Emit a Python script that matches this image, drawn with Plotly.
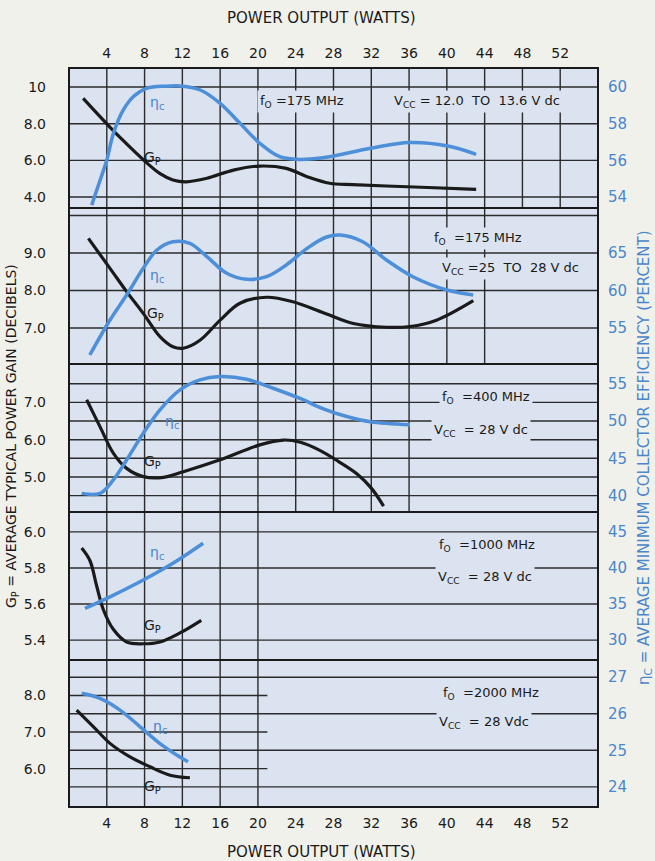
import plotly.graph_objects as go

# ---------------- data ----------------
x_ticks = [4, 8, 12, 16, 20, 24, 28, 32, 36, 40, 44, 48, 52]

# Panel 1: f0 = 175 MHz, Vcc = 12.0 to 13.6 V dc
p1_gp_w = [1.5, 4.3, 6.0, 7.9, 9.6, 11.0, 12.4, 14.6, 17.4, 20.2, 23.0, 25.2, 27.6, 30.0, 33.6, 38.0, 43.1]
p1_gp = [9.38, 7.83, 6.95, 6.02, 5.29, 4.93, 4.83, 5.02, 5.47, 5.69, 5.56, 5.11, 4.75, 4.68, 4.60, 4.52, 4.42]
p1_eta_w = [2.4, 3.3, 4.0, 4.7, 5.75, 6.8, 8.2, 10.3, 12.1, 13.9, 16.0, 18.1, 20.2, 22.3, 24.4, 27.6, 31.9, 36.1, 40.1, 43.1]
p1_eta = [53.56, 54.93, 56.02, 57.47, 58.75, 59.47, 59.93, 60.05, 60.05, 59.84, 59.11, 58.02, 56.93, 56.2, 56.05, 56.2, 56.66, 56.97, 56.78, 56.33]

# Panel 2: f0 = 175 MHz, Vcc = 25 to 28 V dc
p2_gp_w = [2.05, 4.34, 6.1, 7.86, 9.63, 11.0, 12.1, 13.9, 16.0, 18.1, 20.9, 23.7, 27.0, 30.1, 33.6, 36.1, 38.9, 42.8]
p2_gp = [9.39, 8.59, 7.97, 7.39, 6.77, 6.5, 6.46, 6.68, 7.21, 7.66, 7.82, 7.7, 7.4, 7.12, 7.02, 7.04, 7.21, 7.73]
p2_eta_w = [2.2, 4.34, 6.1, 7.86, 9.3, 11.0, 12.8, 14.6, 16.7, 18.8, 20.9, 23.0, 25.2, 27.2, 28.7, 31.1, 33.6, 36.4, 40.0, 42.8]
p2_eta = [51.4, 56.07, 59.4, 62.96, 65.4, 66.5, 66.29, 64.51, 62.29, 61.49, 61.84, 63.4, 65.62, 67.1, 67.4, 66.5, 64.07, 61.84, 60.07, 59.4]

# Panel 3: f0 = 400 MHz, Vcc = 28 V dc
p3_gp_w = [1.87, 3.28, 4.69, 6.1, 7.86, 10.0, 12.1, 16.0, 20.2, 22.7, 24.5, 26.5, 28.5, 30.5, 32.0, 33.3]
p3_gp = [7.07, 6.35, 5.64, 5.23, 5.01, 4.99, 5.14, 5.46, 5.86, 5.99, 5.93, 5.72, 5.42, 5.08, 4.7, 4.22]
p3_eta_w = [1.34, 3.28, 4.69, 6.1, 7.86, 9.63, 11.75, 13.86, 16.0, 18.8, 21.6, 24.4, 27.0, 29.4, 31.9, 36.1]
p3_eta = [40.3, 40.3, 42.1, 44.78, 48.37, 51.5, 54.18, 55.52, 55.96, 55.6, 54.4, 53.06, 51.6, 50.6, 49.9, 49.5]

# Panel 4: f0 = 1000 MHz, Vcc = 28 V dc
p4_gp_w = [1.34, 2.22, 2.93, 3.63, 4.69, 6.1, 7.86, 9.63, 11.75, 14.0]
p4_gp = [5.91, 5.84, 5.70, 5.57, 5.46, 5.39, 5.38, 5.39, 5.44, 5.51]
p4_eta_w = [1.69, 4.34, 7.86, 11.0, 14.2]
p4_eta = [34.4, 36.0, 38.33, 40.65, 43.43]

# Panel 5: f0 = 2000 MHz, Vcc = 28 V dc
p5_gp_w = [0.81, 2.57, 4.34, 6.46, 8.57, 10.7, 12.8]
p5_gp = [7.6, 7.15, 6.69, 6.32, 6.05, 5.82, 5.75]
p5_eta_w = [1.34, 3.28, 5.4, 7.5, 9.6, 11.4, 12.6]
p5_eta = [26.56, 26.42, 26.1, 25.65, 25.19, 24.87, 24.69]

# axis tick labels
gp_tickvals = [[10, 8, 6, 4], [9, 8, 7], [7, 6, 5], [6.0, 5.8, 5.6, 5.4], [8, 7, 6]]
gp_ticktext = [["10", "8.0", "6.0", "4.0"], ["9.0", "8.0", "7.0"], ["7.0", "6.0", "5.0"],
               ["6.0", "5.8", "5.6", "5.4"], ["8.0", "7.0", "6.0"]]
eta_tickvals = [[60, 58, 56, 54], [65, 60, 55], [55, 50, 45, 40], [45, 40, 35, 30], [27, 26, 25, 24]]

f0_text = ["f<sub>O</sub> =175 MHz", "f<sub>O</sub>  =175 MHz", "f<sub>O</sub>  =400 MHz",
           "f<sub>O</sub>  =1000 MHz", "f<sub>O</sub>  =2000 MHz"]
vcc_text = ["V<sub>CC</sub> = 12.0  TO  13.6 V dc", "V<sub>CC</sub> =25  TO  28 V dc",
            "V<sub>CC</sub>  = 28 V dc", "V<sub>CC</sub>  = 28 V dc", "V<sub>CC</sub>  = 28 Vdc"]

# ---------------- styling / geometry ----------------
W, H = 655, 861
L, R, T, B = 69, 57, 68, 54
PW, PH = W - L - R, H - T - B
BLACK = "#1a1a1a"
BLUE = "#4d8fd8"
BLUE_TXT = "#4a86cc"
PLOT_BG = "#dae3ef"
PAPER_BG = "#f1f1ec"
GRID = "#2b2b2b"
FONT = "DejaVu Sans"

def py(yp):  # pixel y -> paper y
    return (H - B - yp) / PH

def px(xp):  # pixel x -> paper x
    return (xp - L) / PW

bounds = [T, 208, 364, 512, 660, H - B]
gp_ranges = [[3.40, 11.04], [6.04, 10.2], [4.06, 8.03], [5.29, 6.11], [4.95, 8.97]]
eta_maps = [lambda g: g + 50, lambda g: 5 * g + 20, lambda g: 5 * g + 17.5,
            lambda g: 30 + (g - 5.4) * 25, lambda g: g + 18.5]
hgrid_full = [[4, 6, 8, 10], [7, 8, 9, 10], [4.5, 5, 5.5, 6, 6.5, 7, 7.5],
              [5.4, 5.6, 5.8, 6.0], [5.5, 6.5, 7.5, 8.5]]
hgrid_short = [[], [], [], [], [6, 7, 8]]
vgrid_max = [52, 44, 36, 20, 20]

panels = [
    (p1_gp_w, p1_gp, p1_eta_w, p1_eta),
    (p2_gp_w, p2_gp, p2_eta_w, p2_eta),
    (p3_gp_w, p3_gp, p3_eta_w, p3_eta),
    (p4_gp_w, p4_gp, p4_eta_w, p4_eta),
    (p5_gp_w, p5_gp, p5_eta_w, p5_eta),
]

fig = go.Figure()
layout = dict(
    width=W, height=H,
    margin=dict(l=L, r=R, t=T, b=B),
    paper_bgcolor=PAPER_BG, plot_bgcolor=PLOT_BG,
    showlegend=False,
    font=dict(family=FONT, color=BLACK, size=13),
)

xcommon = dict(range=[0, 56], domain=[0, 1], tickvals=x_ticks, showgrid=False, zeroline=False,
               ticks="", tickfont=dict(size=14, color=BLACK), ticklabelstandoff=6, showline=False)
layout["xaxis"] = dict(anchor="y9", side="bottom", **xcommon)
layout["xaxis2"] = dict(anchor="y", side="top", matches="x", **xcommon)

shapes = []
annotations = []

for i, (gw, gv, ew, ev) in enumerate(panels):
    lid, rid = 2 * i + 1, 2 * i + 2
    lname = "yaxis" if lid == 1 else f"yaxis{lid}"
    lref = "y" if lid == 1 else f"y{lid}"
    rref = f"y{rid}"
    xref = "x2" if i == 0 else "x"
    dom = [py(bounds[i + 1]), py(bounds[i])]
    gr = gp_ranges[i]
    er = [eta_maps[i](gr[0]), eta_maps[i](gr[1])]
    layout[lname] = dict(
        domain=dom, range=gr, anchor=xref, tickvals=gp_tickvals[i], ticktext=gp_ticktext[i],
        showgrid=False, zeroline=False, ticks="", ticklabelstandoff=22,
        tickfont=dict(size=14, color=BLACK), showline=False,
    )
    layout[f"yaxis{rid}"] = dict(
        overlaying=lref, side="right", anchor=xref, range=er, tickvals=eta_tickvals[i],
        showgrid=False, zeroline=False, ticks="", ticklabelstandoff=9,
        tickfont=dict(size=15, color=BLUE_TXT), showline=False,
    )

    fig.add_trace(go.Scatter(x=ew, y=ev, xaxis=xref, yaxis=rref, mode="lines",
                             line=dict(color=BLUE, width=3.5, shape="spline", smoothing=1.0),
                             hoverinfo="skip"))
    fig.add_trace(go.Scatter(x=gw, y=gv, xaxis=xref, yaxis=lref, mode="lines",
                             line=dict(color=BLACK, width=3.2, shape="spline", smoothing=1.0),
                             hoverinfo="skip"))

    # grid
    for g in hgrid_full[i]:
        shapes.append(dict(type="line", xref=xref, yref=lref, x0=0, x1=56, y0=g, y1=g,
                           line=dict(color=GRID, width=1.4), layer="below"))
    for g in hgrid_short[i]:
        shapes.append(dict(type="line", xref=xref, yref=lref, x0=0, x1=21, y0=g, y1=g,
                           line=dict(color=GRID, width=1.4), layer="below"))
    for xv in x_ticks:
        if xv <= vgrid_max[i]:
            shapes.append(dict(type="line", xref=xref, yref=f"{lref} domain", x0=xv, x1=xv,
                               y0=0, y1=1, line=dict(color=GRID, width=1.4), layer="below"))
    # panel border
    shapes.append(dict(type="rect", xref="paper", yref="paper", x0=0, x1=1, y0=dom[0], y1=dom[1],
                       line=dict(color=BLACK, width=2), fillcolor="rgba(0,0,0,0)", layer="above"))


def note(xp, yp, text, size=13, color=BLACK, bg=None, angle=0):
    d = dict(x=px(xp), y=py(yp), xref="paper", yref="paper", text=text, showarrow=False,
             xanchor="center", yanchor="middle", textangle=angle,
             font=dict(size=size, color=color))
    if bg:
        d["bgcolor"] = bg
        d["borderpad"] = 2
    annotations.append(d)


# condition labels
cond_pos = [
    [(302, 101), (477, 101)],
    [(478, 238), (510, 268)],
    [(486, 397), (481, 430)],
    [(487, 545), (485, 577)],
    [(491, 693), (484, 722)],
]
for i in range(5):
    for (xp, yp), txt in zip(cond_pos[i], [f0_text[i], vcc_text[i]]):
        note(xp, yp, txt, size=13, bg=PLOT_BG)

# curve labels
eta_lbl = [(157, 103), (157, 276), (172, 422), (157, 553), (160, 727)]
gp_lbl = [(152, 158), (155, 314), (152, 462), (152, 626), (152, 787)]
for (ex, ey), (gx, gy) in zip(eta_lbl, gp_lbl):
    note(ex, ey, "η<sub>c</sub>", size=14, color=BLUE_TXT)
    note(gx, gy, "G<sub>P</sub>", size=14)

# axis titles
note(321, 18, "POWER OUTPUT (WATTS)", size=15)
note(321, 852, "POWER OUTPUT (WATTS)", size=15)
note(12, 436, "G<sub>P</sub> = AVERAGE TYPICAL POWER GAIN (DECIBELS)", size=14, angle=-90)
note(644, 458, "η<sub>C</sub> = AVERAGE MINIMUM COLLECTOR EFFICIENCY (PERCENT)", size=15,
     color=BLUE_TXT, angle=-90)

layout["shapes"] = shapes
layout["annotations"] = annotations
fig.update_layout(**layout)

fig.write_html(
    "out.html",
    config={"displayModeBar": False},
    post_script="document.body.style.margin='0px';document.body.style.background='%s';" % PAPER_BG,
)
